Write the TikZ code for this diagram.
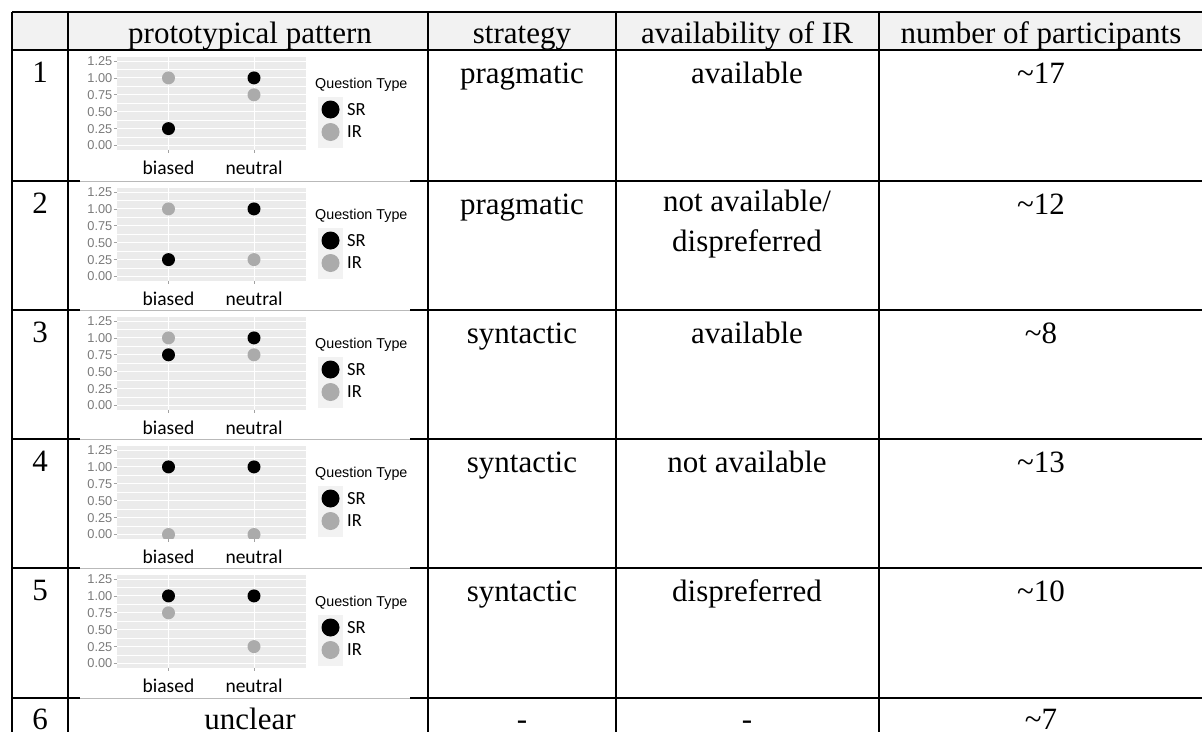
\documentclass[tikz,border=0pt]{standalone}
\usepackage{fontspec}
\setmainfont{Liberation Serif}
\newfontfamily\plotfont{Liberation Sans}
\newfontfamily\keyfont{Carlito}

\definecolor{headfill}{HTML}{F2F2F2}
\definecolor{panelfill}{HTML}{EBEBEB}
\definecolor{ticktext}{HTML}{7A7A7A}
\definecolor{irdot}{HTML}{ABABAB}

\tikzset{
  cell/.style={anchor=base, inner sep=0pt, font=\fontsize{31}{40}\selectfont},
  ylab/.style={anchor=east, inner sep=0pt, text=ticktext, font=\plotfont\fontsize{12.8}{14}\selectfont},
  xlab/.style={inner sep=0pt, font=\keyfont\fontsize{19.5}{21}\selectfont},
  keylab/.style={anchor=west, inner sep=0pt, font=\keyfont\fontsize{18.5}{20}\selectfont},
  ruleline/.style={line width=2.6pt},
}

\begin{document}
\begin{tikzpicture}[x=1pt,y=-1pt]
			\useasboundingbox (0,0) rectangle (1202,731);
			\fill[headfill] (12,12) rectangle (1204,50);

			\foreach \ypos in {12,50} \draw[ruleline] (12,\ypos) -- (1204,\ypos);
			\foreach \ypos in {181,310,439,568,698} {
				\draw[ruleline] (12,\ypos) -- (80,\ypos);
				\draw[ruleline] (410,\ypos) -- (1204,\ypos);
				\draw[gray!55, line width=0.8pt] (80,\ypos) -- (410,\ypos);
			}
			\foreach \xpos in {12,68,428,616,879,1204} \draw[ruleline] (\xpos,12) -- (\xpos,745);

			\node[cell] (hpat) at (250,43) {prototypical pattern};
			\node[cell] (hstrat) at (522,43) {strategy};
			\node[cell] (havail) at (747,43) {availability of IR};
			\node[cell] (hnum) at (1041,43) {number of participants};

			\foreach \row/\rowtop/\strat/\avail/\num in {1/50/pragmatic/available/17, 2/181/pragmatic/{}/12, 3/310/syntactic/available/8, 4/439/syntactic/not available/13, 5/568/syntactic/dispreferred/10} {
				\node[cell] (idx\row) at (40,\rowtop+32) {\row};
				\node[cell] (strat\row) at (522,\rowtop+33) {\strat};
				\node[cell] (avail\row) at (747,\rowtop+33) {\avail};
				\node[cell] (num\row) at (1041,\rowtop+33) {\textasciitilde\num};
			}
			\node[cell, anchor=north, align=center] (avail2x) at (747,190) {not available/\\dispreferred};

			\node[cell] (idx6) at (40,729) {6};
			\node[cell] (pat6) at (250,729) {unclear};
			\node[cell] (strat6) at (522,729) {-};
			\node[cell] (avail6) at (747,729) {-};
			\node[cell] (num6) at (1041,729) {\textasciitilde7};

			\foreach \row/\rowtop/\bIR/\bSR/\nIR/\nSR in {1/50/1/0.25/0.75/1, 2/181/1/0.25/0.25/1, 3/310/1/0.75/0.75/1, 4/439/0/1/0/1, 5/568/0.75/1/0.25/1} {
				\fill[panelfill] (117,\rowtop+6.8) rectangle (305.5,\rowtop+99.7);
				\foreach \val in {0.125,0.375,0.625,0.875,1.125}
					\draw[white, line width=0.5pt] (117,{\rowtop+95.5-\val*67.6}) -- (305.5,{\rowtop+95.5-\val*67.6});
				\foreach \xpos in {168.5,254} {
					\draw[white, line width=1pt] (\xpos,\rowtop+6.8) -- (\xpos,\rowtop+99.7);
					\draw[ticktext!70, line width=0.8pt] (\xpos,\rowtop+99.7) -- (\xpos,\rowtop+103.2);
				}
				\foreach \val/\lab [count=\k] in {0/0.00,0.25/0.25,0.5/0.50,0.75/0.75,1/1.00,1.25/1.25} {
					\draw[white, line width=1pt] (117,{\rowtop+95.5-\val*67.6}) -- (305.5,{\rowtop+95.5-\val*67.6});
					\draw[ticktext!70, line width=0.8pt] (113.5,{\rowtop+95.5-\val*67.6}) -- (117,{\rowtop+95.5-\val*67.6});
					\node[ylab] (ylab\row-\k) at (112.5,{\rowtop+95.5-\val*67.6}) {\lab};
				}
				\begin{scope}
					\clip (117,\rowtop+6.8) rectangle (305.5,\rowtop+99.7);
					\fill[irdot] (168.5,{\rowtop+95.5-\bIR*67.6}) circle[radius=6.5pt];
					\fill[black] (168.5,{\rowtop+95.5-\bSR*67.6}) circle[radius=6.5pt];
					\fill[irdot] (254,{\rowtop+95.5-\nIR*67.6}) circle[radius=6.5pt];
					\fill[black] (254,{\rowtop+95.5-\nSR*67.6}) circle[radius=6.5pt];
				\end{scope}
				\node[xlab] (biased\row) at (168.5,\rowtop+118) {biased};
				\node[xlab] (neutral\row) at (254,\rowtop+118) {neutral};

				\node[anchor=west, inner sep=0pt, font=\plotfont\fontsize{14.3}{16}\selectfont] (qtype\row) at (315,\rowtop+35) {Question Type};
				\fill[headfill] (318,\rowtop+47) rectangle (343,\rowtop+98.3);
				\fill[black] (330.5,\rowtop+59.5) circle[radius=9pt];
				\fill[irdot] (330.5,\rowtop+82) circle[radius=9pt];
				\node[keylab] (sr\row) at (347,\rowtop+59.5) {SR};
				\node[keylab] (ir\row) at (347,\rowtop+82) {IR};
			}
		\end{tikzpicture}
\end{document}
